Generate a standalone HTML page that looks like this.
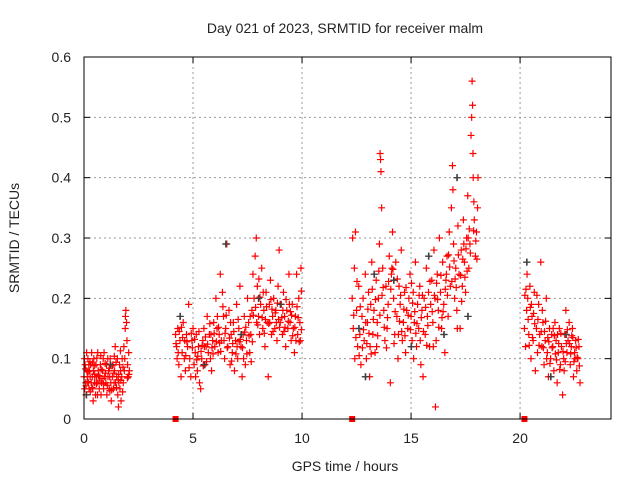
<!DOCTYPE html>
<html><head><meta charset="utf-8"><style>
html,body{margin:0;padding:0;background:#fff}
svg text{font-family:"Liberation Sans",sans-serif;font-size:14px;fill:#222}
</style></head><body>
<svg id="chart" width="640" height="480" viewBox="0 0 640 480" xmlns="http://www.w3.org/2000/svg">
<rect width="640" height="480" fill="#fff"/>
<text x="345" y="33" text-anchor="middle">Day 021 of 2023, SRMTID for receiver malm</text>
<text x="345" y="471" text-anchor="middle">GPS time / hours</text>
<text x="0" y="0" transform="translate(19,238) rotate(-90)" text-anchor="middle">SRMTID / TECUs</text>
<g id="grid"></g>
<g id="ticks"></g>
<g id="gray"></g>
<g id="red"></g>
<g id="gaps"></g>
<rect x="84" y="57" width="527" height="362" fill="none" stroke="#000" stroke-width="1"/>
</svg>
<script>
const xTicks=[0,5,10,15,20];
const yTicks=[0,0.1,0.2,0.3,0.4,0.5,0.6];
const yTickLabels=["0","0.1","0.2","0.3","0.4","0.5","0.6"];
const seg1=[[0.0,.07],[0.03,.05],[0.05,.09],[0.08,.06],[0.1,.04],[0.13,.08],[0.15,.07],[0.18,.1],[0.2,.06],[0.23,.05],[0.25,.08],[0.28,.07],[0.3,.09],[0.33,.06],[0.35,.11],[0.38,.07],[0.4,.05],[0.43,.08],[0.45,.1],[0.48,.06],[0.5,.07],[0.53,.04],[0.55,.09],[0.58,.07],[0.6,.06],[0.63,.11],[0.65,.08],[0.7,.05],[0.73,.07],[0.75,.09],[0.78,.04],[0.8,.06],[0.85,.08],[0.88,.1],[0.9,.05],[0.95,.07],[1.0,.06],[1.03,.09],[1.05,.04],[1.1,.07],[1.13,.08],[1.15,.05],[1.2,.1],[1.23,.06],[1.25,.03],[1.3,.07],[1.33,.09],[1.35,.05],[1.4,.08],[1.43,.12],[1.45,.06],[1.5,.07],[1.53,.1],[1.55,.04],[1.6,.06],[1.63,.09],[1.65,.05],[1.7,.03],[1.73,.07],[1.75,.1],[1.8,.06],[1.83,.12],[1.85,.08],[1.9,.17],[1.92,.18],[1.95,.16],[1.97,.13],[2.0,.09],[2.03,.07],[2.05,.11],[2.08,.08],[0.02,.1],[0.12,.11],[0.22,.09],[0.42,.03],[0.62,.04],[0.92,.11],[1.18,.07],[1.38,.06],[1.58,.02],[1.68,.08]];
const seg1b=[[0.07,.083],[0.17,.062],[0.27,.095],[0.37,.052],[0.47,.088],[0.57,.058],[0.67,.072],[0.77,.105],[0.87,.067],[0.97,.092],[1.07,.056],[1.17,.084],[1.27,.048],[1.37,.076],[1.47,.094],[1.57,.065],[1.67,.113],[1.77,.045],[1.87,.1],[1.99,.068],[0.09,.055],[0.19,.078],[0.29,.045],[0.39,.093],[0.49,.074],[0.59,.101],[0.69,.063],[0.79,.082],[0.89,.058],[0.99,.076],[1.09,.1],[1.19,.047],[1.29,.088],[1.39,.104],[1.49,.052],[1.59,.074],[1.69,.064],[1.79,.086],[1.89,.15],[2.06,.074]];
const seg2=[[4.2,.14],[4.25,.12],[4.3,.15],[4.35,.09],[4.4,.13],[4.45,.07],[4.5,.11],[4.55,.16],[4.6,.1],[4.65,.08],[4.7,.14],[4.75,.12],[4.8,.19],[4.85,.1],[4.9,.07],[4.95,.13],[5.0,.15],[5.05,.09],[5.1,.11],[5.15,.14],[5.2,.08],[5.25,.12],[5.3,.06],[5.35,.05],[5.4,.1],[5.45,.13],[5.5,.15],[5.55,.09],[5.6,.12],[5.65,.17],[5.7,.11],[5.75,.14],[5.8,.1],[5.85,.08],[5.9,.13],[5.95,.16],[6.0,.12],[6.05,.2],[6.1,.15],[6.15,.11],[6.2,.14],[6.25,.24],[6.3,.13],[6.35,.21],[6.4,.17],[6.45,.1],[6.5,.15],[6.55,.29],[6.6,.12],[6.65,.18],[6.7,.09],[6.75,.14],[6.8,.11],[6.85,.16],[6.9,.08],[6.95,.13],[7.0,.19],[7.05,.1],[7.1,.15],[7.15,.22],[7.2,.12],[7.25,.07],[7.3,.14],[7.35,.17],[7.4,.09],[7.45,.13],[7.5,.2],[7.55,.16],[7.6,.11],[7.65,.14],[7.7,.18],[7.75,.24],[7.8,.2],[7.85,.27],[7.9,.3],[7.95,.22],[8.0,.17],[8.05,.14],[8.1,.19],[8.15,.25],[8.2,.15],[8.25,.18],[8.3,.12],[8.35,.21],[8.4,.16],[8.45,.07],[8.5,.19],[8.55,.23],[8.6,.14],[8.65,.17],[8.7,.2],[8.75,.15],[8.8,.18],[8.85,.13],[8.9,.22],[8.95,.28],[9.0,.16],[9.05,.19],[9.1,.14],[9.15,.21],[9.2,.17],[9.25,.12],[9.3,.18],[9.35,.15],[9.4,.24],[9.45,.16],[9.5,.13],[9.55,.19],[9.6,.15],[9.65,.11],[9.7,.17],[9.75,.24],[9.8,.14],[9.85,.2],[9.9,.16],[9.95,.25],[4.32,.11],[4.62,.13],[5.12,.07],[5.52,.12],[5.82,.14],[6.12,.17],[6.42,.13],[6.72,.16],[7.02,.12],[7.32,.1],[7.62,.17],[7.92,.16],[8.22,.21],[8.52,.16],[8.82,.16],[9.12,.18],[9.42,.19],[9.72,.13],[9.92,.13]];
const seg2b=[[4.22,.125],[4.37,.145],[4.52,.135],[4.67,.105],[4.82,.085],[4.97,.118],[5.07,.132],[5.17,.098],[5.27,.145],[5.37,.112],[5.47,.088],[5.57,.136],[5.67,.124],[5.77,.158],[5.87,.118],[5.97,.142],[6.07,.128],[6.17,.152],[6.27,.112],[6.37,.186],[6.47,.142],[6.57,.118],[6.67,.134],[6.77,.096],[6.87,.145],[6.97,.108],[7.07,.165],[7.17,.132],[7.27,.118],[7.37,.144],[7.47,.108],[7.57,.138],[7.67,.095],[7.77,.172],[7.87,.185],[7.97,.156],[8.07,.202],[8.17,.168],[8.27,.142],[8.37,.186],[8.47,.158],[8.57,.198],[8.67,.145],[8.77,.176],[8.87,.192],[8.97,.152],[9.07,.168],[9.17,.145],[9.27,.198],[9.37,.162],[9.47,.178],[9.57,.138],[9.67,.152],[9.77,.186],[9.87,.128],[9.97,.148],[4.27,.1],[4.47,.152],[4.72,.128],[4.92,.142],[5.22,.104],[5.42,.122],[5.62,.095],[5.92,.108],[6.22,.126],[6.52,.172],[6.82,.125],[7.12,.128],[7.42,.152],[7.72,.128],[8.02,.232],[8.32,.165],[8.62,.182],[8.92,.165],[9.22,.152],[9.52,.172],[9.82,.168],[9.97,.212]];
const seg3=[[12.3,.2],[12.35,.15],[12.4,.25],[12.45,.31],[12.5,.18],[12.55,.12],[12.6,.22],[12.65,.14],[12.7,.09],[12.75,.17],[12.8,.2],[12.85,.13],[12.9,.24],[12.95,.1],[13.0,.16],[13.05,.21],[13.1,.07],[13.15,.19],[13.2,.26],[13.25,.14],[13.3,.18],[13.35,.11],[13.4,.23],[13.45,.16],[13.5,.2],[13.55,.29],[13.6,.43],[13.62,.41],[13.65,.35],[13.7,.25],[13.75,.18],[13.8,.13],[13.85,.22],[13.9,.15],[13.95,.19],[14.0,.27],[14.05,.06],[14.1,.24],[14.15,.31],[14.2,.2],[14.25,.14],[14.3,.26],[14.35,.17],[14.4,.1],[14.45,.22],[14.5,.19],[14.55,.28],[14.6,.13],[14.65,.16],[14.7,.21],[14.75,.11],[14.8,.18],[14.85,.15],[14.9,.2],[14.95,.24],[15.0,.17],[15.05,.13],[15.1,.21],[15.15,.16],[15.2,.26],[15.25,.12],[15.3,.19],[15.35,.15],[15.4,.22],[15.45,.09],[15.5,.18],[15.55,.07],[15.6,.2],[15.65,.14],[15.7,.25],[15.75,.17],[15.8,.21],[15.85,.12],[15.9,.19],[15.95,.23],[16.0,.16],[16.05,.28],[16.1,.2],[16.15,.13],[16.2,.24],[16.25,.18],[16.3,.3],[16.35,.21],[16.4,.15],[16.45,.26],[16.5,.19],[16.55,.11],[16.6,.23],[16.65,.27],[16.7,.17],[16.75,.31],[16.8,.22],[16.85,.35],[16.9,.42],[16.95,.29],[17.0,.2],[17.05,.25],[17.1,.18],[17.15,.32],[17.2,.24],[17.25,.15],[17.3,.28],[17.35,.22],[17.4,.33],[17.45,.26],[17.5,.21],[17.55,.3],[17.6,.37],[17.65,.25],[17.7,.29],[17.75,.47],[17.8,.56],[17.82,.52],[17.85,.4],[17.9,.33],[17.95,.27],[18.0,.31],[18.05,.35],[13.58,.44],[13.12,.12],[14.12,.25],[15.12,.1],[16.02,.12],[16.12,.02],[16.62,.24],[17.12,.15],[17.62,.3],[17.78,.5],[12.32,.3],[12.42,.1],[12.92,.16],[13.42,.12],[14.42,.14],[15.42,.13],[16.92,.38],[17.42,.29]];
const seg3b=[[12.37,.172],[12.52,.228],[12.67,.186],[12.82,.148],[12.97,.125],[13.07,.142],[13.17,.108],[13.27,.165],[13.37,.198],[13.47,.138],[13.57,.172],[13.67,.205],[13.77,.152],[13.87,.118],[13.97,.228],[14.07,.215],[14.17,.248],[14.27,.178],[14.37,.232],[14.47,.162],[14.57,.145],[14.67,.182],[14.77,.218],[14.87,.172],[14.97,.148],[15.07,.192],[15.17,.178],[15.27,.158],[15.37,.205],[15.47,.168],[15.57,.145],[15.67,.185],[15.77,.155],[15.87,.228],[15.97,.178],[16.07,.205],[16.17,.225],[16.27,.152],[16.37,.238],[16.47,.178],[16.57,.215],[16.67,.205],[16.77,.252],[16.87,.228],[16.97,.262],[17.07,.218],[17.17,.272],[17.27,.238],[17.37,.265],[17.47,.235],[17.57,.245],[17.67,.315],[17.72,.275],[17.87,.312],[17.97,.295],[18.02,.265],[12.47,.135],[12.62,.105],[12.77,.118],[13.02,.182],[13.22,.215],[13.52,.245],[13.72,.218],[13.92,.168],[14.22,.125],[14.52,.205],[14.72,.138],[15.02,.225],[15.22,.142],[15.52,.205],[15.72,.122],[16.22,.198],[16.42,.168],[16.72,.272],[17.02,.232],[17.32,.195],[17.52,.282],[17.84,.44],[17.88,.36],[18.07,.4]];
const seg4=[[20.2,.15],[20.25,.12],[20.3,.18],[20.35,.2],[20.4,.14],[20.45,.22],[20.5,.1],[20.55,.17],[20.6,.13],[20.65,.21],[20.7,.08],[20.75,.15],[20.8,.11],[20.85,.19],[20.9,.14],[20.95,.26],[21.0,.12],[21.05,.16],[21.1,.09],[21.15,.13],[21.2,.2],[21.25,.11],[21.3,.07],[21.35,.15],[21.4,.1],[21.45,.14],[21.5,.12],[21.55,.08],[21.6,.16],[21.65,.13],[21.7,.06],[21.75,.11],[21.8,.15],[21.85,.09],[21.9,.12],[21.95,.04],[22.0,.1],[22.05,.14],[22.1,.18],[22.15,.11],[22.2,.13],[22.25,.16],[22.3,.09],[22.35,.12],[22.4,.15],[22.45,.07],[22.5,.11],[22.55,.13],[22.6,.08],[22.65,.1],[22.7,.12],[22.75,.06],[20.32,.24],[20.52,.19],[21.02,.18],[21.52,.15],[22.02,.08],[22.52,.1],[21.22,.1],[21.72,.14]];
const seg4b=[[20.22,.205],[20.37,.165],[20.47,.185],[20.57,.135],[20.67,.158],[20.77,.205],[20.87,.122],[20.97,.145],[21.07,.118],[21.17,.162],[21.27,.135],[21.37,.092],[21.47,.118],[21.57,.138],[21.67,.098],[21.77,.125],[21.87,.142],[21.97,.112],[22.07,.095],[22.17,.148],[22.27,.125],[22.37,.138],[22.47,.095],[22.57,.118],[22.67,.132],[22.72,.088],[20.27,.215],[20.42,.122],[20.62,.175],[20.82,.165],[21.12,.145],[21.32,.128],[21.62,.108],[21.82,.082],[22.12,.125],[22.32,.108],[22.42,.135],[22.62,.102]];
const grayPts=[[0.1,.04],[1.2,.09],[4.4,.17],[5.5,.09],[6.5,.29],[7.2,.14],[8.0,.2],[9.0,.19],[12.6,.15],[13.3,.24],[14.2,.23],[15.0,.12],[15.8,.27],[16.5,.14],[17.1,.4],[17.6,.17],[20.3,.26],[21.4,.07],[22.1,.14],[12.9,.07]];
const gapTimes=[4.2,12.3,20.2];

const NS="http://www.w3.org/2000/svg";
const X0=84,X1=611,Y0=419,Y1=57,XMAX=24.17,YMAX=0.6;
function sx(t){return X0+t/XMAX*(X1-X0);}
function sy(v){return Y0-v/YMAX*(Y0-Y1);}
function mk(tag,attrs,parent){const e=document.createElementNS(NS,tag);for(const k in attrs)e.setAttribute(k,attrs[k]);parent.appendChild(e);return e;}
const grid=document.getElementById('grid'),ticks=document.getElementById('ticks');
xTicks.forEach(t=>{
  const x=sx(t);
  if(t>0){const l=mk('line',{x1:x,y1:Y1,x2:x,y2:Y0,stroke:'#999','stroke-dasharray':'2,3'},grid);
  
  }
  mk('line',{x1:x,y1:Y0,x2:x,y2:Y0-6,stroke:'#000'},ticks);
  mk('line',{x1:x,y1:Y1,x2:x,y2:Y1+6,stroke:'#000'},ticks);
  const tx=mk('text',{x:x,y:443,'text-anchor':'middle'},ticks);tx.textContent=String(t);
  
  
});
yTicks.forEach((v,i)=>{
  const y=sy(v);
  if(v>0&&v<YMAX){const l=mk('line',{x1:X0,y1:y,x2:X1,y2:y,stroke:'#999','stroke-dasharray':'2,3'},grid);
  
  }
  mk('line',{x1:X0,y1:y,x2:X0+6,y2:y,stroke:'#000'},ticks);
  mk('line',{x1:X1,y1:y,x2:X1-6,y2:y,stroke:'#000'},ticks);
  const tx=mk('text',{x:71,y:y+5,'text-anchor':'end'},ticks);tx.textContent=yTickLabels[i];
  
  
});
function plus(g,p,color){
  const x=sx(p[0]),y=sy(p[1]);
  const e=mk('path',{d:`M${x-3.5},${y}h7M${x},${y-3.5}v7`,stroke:color,'stroke-width':1.2,fill:'none'},g);
  
  
}
const gray=document.getElementById('gray'),red=document.getElementById('red');
grayPts.forEach(p=>plus(gray,p,'#404040'));
[seg1,seg1b,seg2,seg2b,seg3,seg3b,seg4,seg4b].forEach(s=>s.forEach(p=>plus(red,p,'#ff0000')));
grayPts.forEach(p=>plus(red,[p[0]+0.02,p[1]],'#404040'));
const gaps=document.getElementById('gaps');
gapTimes.forEach(t=>{
  const r=mk('rect',{x:sx(t)-3,y:Y0-3,width:6,height:6,fill:'#ff0000'},gaps);
  
  
});
</script>
</body></html>
